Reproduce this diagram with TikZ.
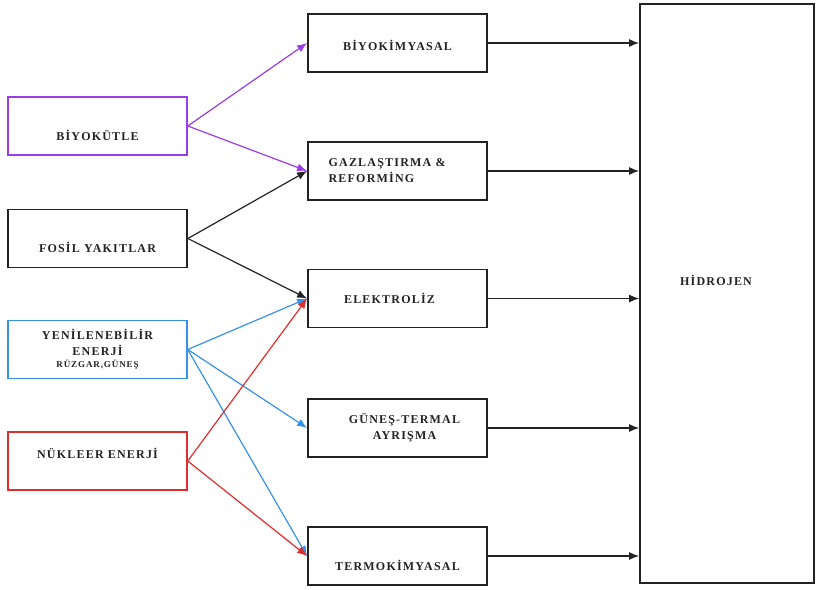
\documentclass[tikz,border=0pt]{standalone}
\usepackage{fontspec}
\setmainfont{Liberation Serif}[LetterSpace=10]
\usetikzlibrary{arrows.meta}
\definecolor{mor}{RGB}{155,60,230}
\definecolor{mavi}{RGB}{55,145,230}
\definecolor{kirmizi}{RGB}{225,45,45}
\definecolor{koyu}{RGB}{35,35,35}
\tikzset{
  kutu/.style={draw=koyu, line width=1.8pt, minimum width=179pt, minimum height=58pt, inner sep=0pt},
  yazi/.style={font=\fontsize{12}{16}\selectfont\bfseries, text=koyu, align=center},
  ok/.style={-{Latex[length=10pt,width=8pt]}, line width=1.2pt}
}
\begin{document}
\begin{tikzpicture}[x=1pt,y=-1pt]
\useasboundingbox (0,0) rectangle (816,589);
% kaynaklar
\node[kutu,draw=mor,line width=1.5pt] (biyo) at (97.5,126) {};
\node[yazi,yshift=-9pt] (biyot) at (biyo.center) {BİYOKÜTLE};
\node[kutu] (fosil) at (97.5,238.5) {};
\node[yazi,yshift=-9pt] (fosilt) at (fosil.center) {FOSİL YAKITLAR};
\node[kutu,draw=mavi,line width=1.5pt] (yeni) at (97.5,349.5) {};
\node[yazi] (yenit) at (yeni.center) {YENİLENEBİLİR\\ENERJİ\\[-4pt]{\fontsize{9}{11}\selectfont RÜZGAR,GÜNEŞ}};
\node[kutu,draw=kirmizi,line width=1.5pt] (nuk) at (97.5,461) {};
\node[yazi,yshift=8pt] (nukt) at (nuk.center) {NÜKLEER ENERJİ};
% yontemler
\node[kutu] (bkim) at (397.5,43) {};
\node[yazi,yshift=-2pt] (bkimt) at (bkim.center) {BİYOKİMYASAL};
\node[kutu] (gaz) at (397.5,171) {};
\node[yazi,align=left,anchor=west,xshift=18pt] (gazt) at (gaz.west) {GAZLAŞTIRMA \&\\REFORMİNG};
\node[kutu] (elek) at (397.5,298.5) {};
\node[yazi,xshift=-8pt] (elekt) at (elek.center) {ELEKTROLİZ};
\node[kutu] (gunes) at (397.5,428) {};
\node[yazi,xshift=7pt] (gunest) at (gunes.center) {GÜNEŞ-TERMAL\\AYRIŞMA};
\node[kutu] (termo) at (397.5,556) {};
\node[yazi,yshift=-9pt] (termot) at (termo.center) {TERMOKİMYASAL};
% hidrojen
\node[kutu,minimum width=174pt,minimum height=579pt] (hid) at (727,293.5) {};
\node[yazi,xshift=-11pt,yshift=13pt] (hidt) at (hid.center) {HİDROJEN};
% oklar
\draw[ok,mor] (biyo.east) -- (bkim.west);
\draw[ok,mor] (biyo.east) -- (gaz.west);
\draw[ok,koyu] (fosil.east) -- (gaz.west);
\draw[ok,koyu] (fosil.east) -- (elek.west);
\draw[ok,mavi] (yeni.east) -- (elek.west);
\draw[ok,mavi] (yeni.east) -- (gunes.west);
\draw[ok,mavi] (yeni.east) -- (termo.west);
\draw[ok,kirmizi] (nuk.east) -- (elek.west);
\draw[ok,kirmizi] (nuk.east) -- (termo.west);
\foreach \k in {bkim,gaz,elek,gunes,termo}
  \draw[ok,koyu] (\k.east) -- (hid.west |- \k.east);
\end{tikzpicture}
\end{document}
